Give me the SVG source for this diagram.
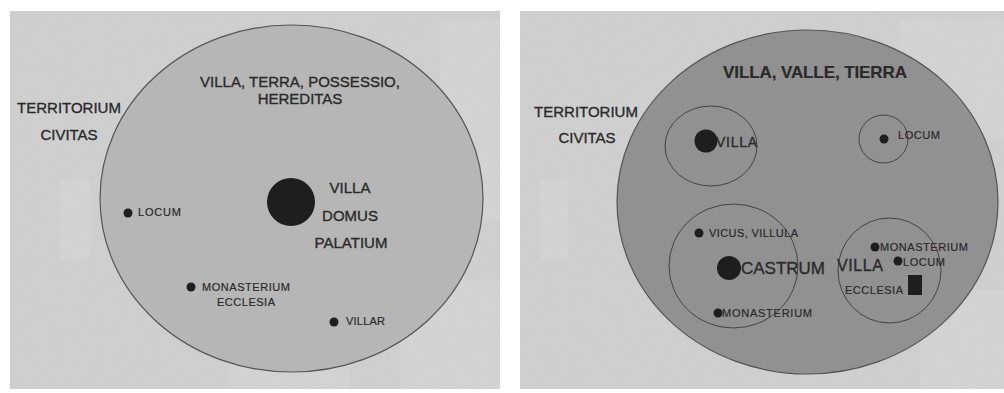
<svg xmlns="http://www.w3.org/2000/svg" width="1004" height="393" viewBox="0 0 1004 393">
<style>
.t{font-family:"Liberation Sans",Arial,sans-serif;fill:#2a2a2a;stroke:#2a2a2a;stroke-width:0.35}
.lg{font-size:15px}
.sm{font-size:11px;stroke-width:0.2}
.b{font-weight:bold;stroke-width:0.2}
.big{stroke:#555;stroke-width:1.2}
.ring{fill:none;stroke:#3a3a3a;stroke-width:0.9}
.dot{fill:#1e1e1e}
.bgs{fill:#dcdcdc;opacity:0.35}
</style>
<defs>
<filter id="noise" x="0" y="0" width="100%" height="100%">
<feTurbulence type="fractalNoise" baseFrequency="0.9" numOctaves="2" seed="3" result="n"/>
<feColorMatrix type="matrix" values="0 0 0 0 0.5  0 0 0 0 0.5  0 0 0 0 0.5  0 0 0 0.15 0"/>
</filter>
</defs>
<rect width="1004" height="393" fill="#ffffff"/>
<g id="background">
<rect x="10" y="11" width="490" height="378" fill="#d0d0d0"/>
<rect x="520" y="11" width="484" height="378" fill="#d0d0d0"/>
<rect x="60" y="180" width="30" height="80" class="bgs"/>
<rect x="400" y="280" width="100" height="109" class="bgs"/>
<rect x="440" y="20" width="60" height="200" class="bgs"/>
<rect x="230" y="350" width="120" height="39" class="bgs"/>
<rect x="900" y="20" width="104" height="120" class="bgs"/>
<rect x="920" y="290" width="84" height="99" class="bgs"/>
<rect x="540" y="180" width="28" height="80" class="bgs"/>
<rect x="10" y="11" width="490" height="378" filter="url(#noise)"/>
<rect x="520" y="11" width="484" height="378" filter="url(#noise)"/>
</g>
<g id="left-panel">
<g id="left-territory">
<ellipse cx="291.5" cy="198.5" rx="191.5" ry="173.5" fill="#b6b6b6" class="big"/>
<text class="t lg" x="300" y="87" text-anchor="middle">VILLA, TERRA, POSSESSIO,</text>
<text class="t lg" x="300" y="104" text-anchor="middle">HEREDITAS</text>
</g>
<g id="left-civitas">
<text class="t lg" x="69" y="113" text-anchor="middle">TERRITORIUM</text>
<text class="t lg" x="69" y="140" text-anchor="middle">CIVITAS</text>
</g>
<g id="left-villa">
<circle cx="291" cy="202" r="24" class="dot"/>
<text class="t lg" x="350" y="193" text-anchor="middle">VILLA</text>
<text class="t lg" x="350" y="221" text-anchor="middle">DOMUS</text>
<text class="t lg" x="351" y="248" text-anchor="middle">PALATIUM</text>
</g>
<g id="left-locum">
<circle cx="128" cy="213" r="4.5" class="dot"/>
<text class="t sm" x="138" y="216" textLength="43">LOCUM</text>
</g>
<g id="left-monasterium">
<circle cx="191" cy="287" r="4.5" class="dot"/>
<text class="t sm" x="202" y="291" textLength="88">MONASTERIUM</text>
<text class="t sm" x="217" y="306" textLength="58">ECCLESIA</text>
</g>
<g id="left-villar">
<circle cx="334" cy="322" r="4.5" class="dot"/>
<text class="t sm" x="346" y="325" textLength="39">VILLAR</text>
</g>
</g>
<g id="right-panel">
<g id="right-territory">
<ellipse cx="807.5" cy="202" rx="190.5" ry="172" fill="#919191" class="big"/>
<text class="t b" x="815" y="78" text-anchor="middle" font-size="17" textLength="184">VILLA, VALLE, TIERRA</text>
</g>
<g id="right-civitas">
<text class="t lg" x="586" y="117" text-anchor="middle">TERRITORIUM</text>
<text class="t lg" x="587" y="143" text-anchor="middle">CIVITAS</text>
</g>
<g id="right-villa">
<ellipse cx="711" cy="146" rx="46" ry="40" class="ring"/>
<circle cx="706" cy="141" r="11.5" class="dot"/>
<text class="t" x="716" y="147" font-size="14" textLength="41">VILLA</text>
</g>
<g id="right-locum">
<ellipse cx="883.5" cy="139" rx="24.5" ry="24" class="ring"/>
<circle cx="884" cy="139" r="4.5" class="dot"/>
<text class="t sm" x="898" y="139" textLength="42">LOCUM</text>
</g>
<g id="right-castrum">
<ellipse cx="733.5" cy="266" rx="64.5" ry="62" class="ring"/>
<circle cx="729" cy="268" r="12" class="dot"/>
<text class="t" x="741" y="274" font-size="17" textLength="84">CASTRUM</text>
<circle cx="699" cy="233" r="4.5" class="dot"/>
<text class="t sm" x="709" y="237" textLength="89">VICUS, VILLULA</text>
<circle cx="718" cy="313" r="4.5" class="dot"/>
<text class="t sm" x="722" y="317" textLength="90">MONASTERIUM</text>
</g>
<g id="right-villa2">
<ellipse cx="889.5" cy="270.5" rx="51.5" ry="52.5" class="ring"/>
<text class="t" x="837" y="271" font-size="16" textLength="46">VILLA</text>
<circle cx="875" cy="247" r="4.5" class="dot"/>
<text class="t sm" x="880" y="251" textLength="88">MONASTERIUM</text>
<circle cx="898" cy="261" r="4.5" class="dot"/>
<text class="t sm" x="903" y="266" textLength="42">LOCUM</text>
<text class="t sm" x="845" y="294" textLength="58">ECCLESIA</text>
<rect x="908" y="275" width="14" height="20" fill="#1e1e1e"/>
</g>
</g>
</svg>
